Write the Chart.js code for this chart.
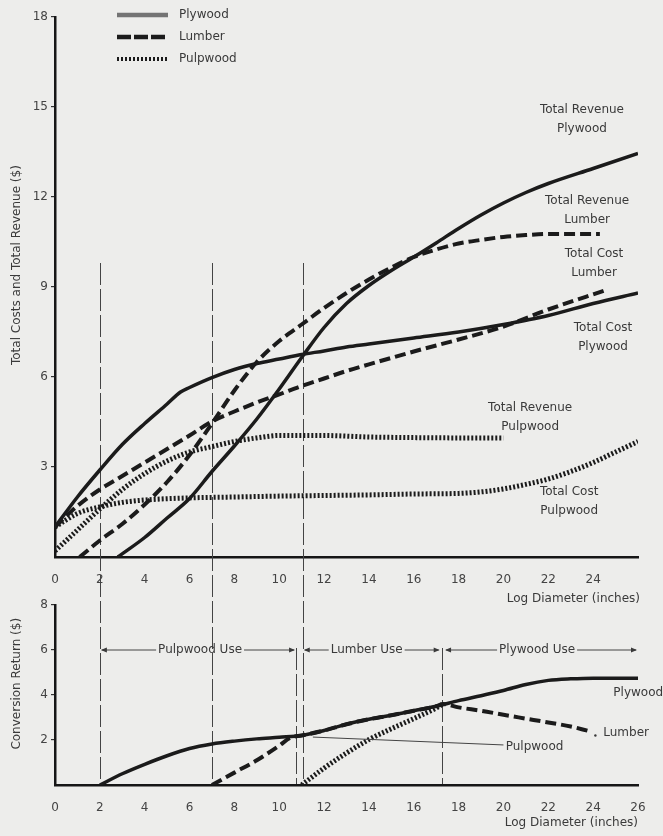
<!DOCTYPE html>
<html>
<head>
<meta charset="utf-8">
<script src="https://cdn.jsdelivr.net/npm/chart.js@4.4.1/dist/chart.umd.min.js"></script>
<style>
  html, body { margin: 0; padding: 0; background: #ededeb; }
  #wrap { position: relative; width: 663px; height: 836px; }
  #wrap canvas { position: absolute; left: 0; top: 0; }
</style>
</head>
<body>
<div id="wrap">
  <canvas id="custos" width="663" height="836"></canvas>
  <canvas id="retorno" width="663" height="836"></canvas>
</div>
<script>
// eixo x comum: diametro da tora (polegadas)
const xTicksTop = [0, 2, 4, 6, 8, 10, 12, 14, 16, 18, 20, 22, 24];
const xTicksBottom = [0, 2, 4, 6, 8, 10, 12, 14, 16, 18, 20, 22, 24, 26];
const yTicksTop = [3, 6, 9, 12, 15, 18];
const yTicksBottom = [2, 4, 6, 8];

// grafico de cima: custos e receitas totais ($)
const revPlywoodX = [2.8, 4, 5, 6, 7, 8, 9, 10, 11, 12, 13, 14, 15, 16, 17, 18, 19, 20, 21, 22, 24, 26];
const revPlywoodY = [0, 0.65, 1.3, 1.95, 2.85, 3.7, 4.6, 5.6, 6.65, 7.65, 8.45, 9.05, 9.55, 10.0, 10.47, 10.95, 11.4, 11.8, 12.15, 12.45, 12.95, 13.45];
const costPlywoodX = [0, 1, 2, 3, 4, 5, 5.6, 6, 7, 8, 9, 10, 11, 12, 13, 14, 16, 18, 20, 22, 24, 26];
const costPlywoodY = [1.0, 2.0, 2.9, 3.75, 4.45, 5.1, 5.5, 5.65, 5.98, 6.25, 6.45, 6.6, 6.75, 6.87, 7.0, 7.1, 7.3, 7.5, 7.75, 8.05, 8.45, 8.8];
const revLumberX = [1.1, 2, 3, 4, 5, 6, 7, 8, 9, 10, 11, 12, 13, 14, 15, 16, 17, 18, 19, 20, 21, 22, 24.3];
const revLumberY = [0, 0.55, 1.1, 1.75, 2.5, 3.4, 4.45, 5.55, 6.5, 7.2, 7.75, 8.3, 8.8, 9.25, 9.65, 10.0, 10.25, 10.45, 10.57, 10.67, 10.73, 10.77, 10.77];
const costLumberX = [0, 1, 2, 3, 4, 5, 6, 7, 8, 9, 10, 11, 12, 13, 14, 16, 18, 20, 22, 24.5];
const costLumberY = [1.0, 1.7, 2.25, 2.7, 3.15, 3.6, 4.05, 4.52, 4.85, 5.15, 5.42, 5.7, 5.95, 6.2, 6.42, 6.85, 7.25, 7.68, 8.25, 8.88];
const revPulpX = [0, 1, 2, 3, 4, 5, 6, 7, 8, 9, 10, 12, 14, 16, 18, 20];
const revPulpY = [0.2, 0.9, 1.6, 2.25, 2.78, 3.2, 3.5, 3.68, 3.85, 3.97, 4.05, 4.05, 4.0, 3.98, 3.97, 3.97];
const costPulpX = [0, 1, 2, 3, 4, 6, 8, 10, 12, 14, 16, 18, 19, 20, 21, 22, 23, 24, 25, 26];
const costPulpY = [1.0, 1.45, 1.67, 1.82, 1.9, 1.97, 2.0, 2.03, 2.05, 2.07, 2.1, 2.12, 2.17, 2.27, 2.42, 2.6, 2.85, 3.15, 3.5, 3.85];

// grafico de baixo: retorno de conversao ($)
const retPlywoodX = [2, 3, 4, 5, 6, 7, 8, 9, 10, 11, 12, 13, 14, 15, 16, 17, 18, 19, 20, 21, 22, 23, 24, 26];
const retPlywoodY = [0, 0.5, 0.92, 1.3, 1.62, 1.82, 1.95, 2.05, 2.12, 2.2, 2.42, 2.7, 2.92, 3.1, 3.3, 3.5, 3.75, 3.97, 4.2, 4.47, 4.65, 4.72, 4.75, 4.75];
const retLumberX = [7, 8, 9, 10, 10.5, 11, 12, 13, 14, 15, 16, 17, 17.3, 18, 19, 20, 21, 22, 23, 23.8];
const retLumberY = [0, 0.55, 1.1, 1.75, 2.1, 2.2, 2.42, 2.7, 2.92, 3.1, 3.3, 3.5, 3.6, 3.45, 3.3, 3.12, 2.95, 2.78, 2.6, 2.4];
const retPulpX = [11, 12, 13, 14, 15, 16, 17, 17.3];
const retPulpY = [0, 0.75, 1.42, 2.02, 2.5, 2.95, 3.42, 3.6];

// limites de uso (linhas verticais tracejadas)
const limitesLongos = [2, 7, 11.05];
const limitesCurtos = [10.75, 17.25];
const usos = [
    { texto: 'Pulpwood Use', de: 2, ate: 10.75, centro: 6.47 },
    { texto: 'Lumber Use', de: 11.05, ate: 17.2, centro: 13.9 },
    { texto: 'Plywood Use', de: 17.35, ate: 26, centro: 21.5 }
];

// rotulos das curvas (em unidades dos eixos)
const rotulosTop = [
    { linhas: ['Total Revenue', 'Plywood'], x: 23.5, y: 14.9 },
    { linhas: ['Total Revenue', 'Lumber'], x: 23.73, y: 11.87 },
    { linhas: ['Total Cost', 'Lumber'], x: 24.04, y: 10.1 },
    { linhas: ['Total Cost', 'Plywood'], x: 24.44, y: 7.63 },
    { linhas: ['Total Revenue', 'Pulpwood'], x: 21.19, y: 4.97 },
    { linhas: ['Total Cost', 'Pulpwood'], x: 22.93, y: 2.17 }
];

const FONTE = '"DejaVu Sans", sans-serif';
const COR_TEXTO = '#3a3a3a';
const COR_LINHA = '#1b1b1b';

function serie(xs, ys, estilo) {
    return Object.assign({
        data: xs.map((v, i) => ({ x: v, y: ys[i] })),
        showLine: true,
        pointRadius: 0,
        fill: false,
        cubicInterpolationMode: 'monotone',
        borderColor: COR_LINHA,
        borderCapStyle: 'butt'
    }, estilo);
}
const solido = { borderWidth: 3.5 };
const tracejado = { borderWidth: 4, borderDash: [11, 5] };
const pontilhado = { borderWidth: 5, borderDash: [2, 2] };

function escalas(xTicks, yTicks, ymax, alturaX) {
    const fonteTick = { family: FONTE, size: 12 };
    return {
        x: {
            type: 'linear', min: 0, max: 26,
            afterBuildTicks: s => { s.ticks = xTicks.map(v => ({ value: v })); },
            afterFit: s => { s.height = alturaX; },
            grid: { display: false },
            border: { display: true, color: '#161616', width: 2.5 },
            ticks: { color: '#444', font: fonteTick, padding: 8, maxRotation: 0, autoSkip: false }
        },
        y: {
            type: 'linear', min: 0, max: ymax,
            afterBuildTicks: s => { s.ticks = yTicks.map(v => ({ value: v })); },
            afterFit: s => { s.width = 54; },
            grid: { display: true, drawOnChartArea: false, drawTicks: true, tickLength: 4, color: '#333', lineWidth: 1.2 },
            border: { display: true, color: '#161616', width: 2.5 },
            ticks: { color: '#444', font: fonteTick, padding: 3, autoSkip: false }
        }
    };
}

function seta(ctx, x, y, dir) {
    ctx.beginPath();
    ctx.moveTo(x, y);
    ctx.lineTo(x - dir * 6, y - 2.5);
    ctx.lineTo(x - dir * 6, y + 2.5);
    ctx.closePath();
    ctx.fill();
}

function textoVertical(ctx, texto, x, y) {
    ctx.save();
    ctx.translate(x, y);
    ctx.rotate(-Math.PI / 2);
    ctx.textAlign = 'center';
    ctx.textBaseline = 'middle';
    ctx.fillText(texto, 0, 0);
    ctx.restore();
}

// grafico de baixo primeiro (canvas de cima na pilha)
const decoRetorno = {
    id: 'decoRetorno',
    afterDraw(chart) {
        const { ctx, scales: { x, y } } = chart;
        ctx.save();
        ctx.font = '12px ' + FONTE;
        ctx.fillStyle = COR_TEXTO;
        ctx.strokeStyle = '#444';
        ctx.lineWidth = 1;
        ctx.textBaseline = 'middle';

        // faixas de uso com setas
        const yu = y.getPixelForValue(6);
        usos.forEach(u => {
            const x0 = x.getPixelForValue(u.de), x1 = x.getPixelForValue(u.ate);
            const xc = x.getPixelForValue(u.centro);
            const w = ctx.measureText(u.texto).width;
            ctx.textAlign = 'center';
            ctx.fillText(u.texto, xc, yu);
            ctx.beginPath();
            ctx.moveTo(x0 + 2, yu); ctx.lineTo(xc - w / 2 - 2, yu);
            ctx.moveTo(xc + w / 2 + 2, yu); ctx.lineTo(x1 - 2, yu);
            ctx.stroke();
            seta(ctx, x0 + 1, yu, -1);
            seta(ctx, x1 - 1, yu, 1);
        });

        // rotulos das curvas
        ctx.textAlign = 'left';
        ctx.fillText('Plywood', x.getPixelForValue(24.9), y.getPixelForValue(4.09));
        ctx.fillText('Lumber', x.getPixelForValue(24.45), y.getPixelForValue(2.31));
        ctx.beginPath();
        ctx.arc(x.getPixelForValue(24.1), y.getPixelForValue(2.2), 1.2, 0, Math.PI * 2);
        ctx.fill();
        ctx.fillText('Pulpwood', x.getPixelForValue(20.1), y.getPixelForValue(1.69));
        ctx.beginPath();
        ctx.moveTo(x.getPixelForValue(11.5), y.getPixelForValue(2.13));
        ctx.lineTo(x.getPixelForValue(20.0), y.getPixelForValue(1.78));
        ctx.stroke();

        // titulos dos eixos
        ctx.textAlign = 'right';
        ctx.fillText('Log Diameter (inches)', x.right, y.bottom + 38);
        textoVertical(ctx, 'Conversion Return ($)', 17, y.getPixelForValue(4.5));
        ctx.restore();
    }
};

const retorno = new Chart(document.getElementById('retorno'), {
    type: 'scatter',
    data: {
        datasets: [
            serie(retPlywoodX, retPlywoodY, solido),
            serie(retLumberX, retLumberY, tracejado),
            serie(retPulpX, retPulpY, pontilhado)
        ]
    },
    options: {
        responsive: false,
        animation: false,
        layout: { padding: { top: 605, right: 25, bottom: 21, left: 1 } },
        plugins: { legend: { display: false }, tooltip: { enabled: false } },
        scales: escalas(xTicksBottom, yTicksBottom, 8, 30)
    },
    plugins: [decoRetorno]
});

const decoCustos = {
    id: 'decoCustos',
    beforeDatasetsDraw(chart) {
        // linhas verticais que atravessam os dois graficos
        const { ctx, scales: { x, y } } = chart;
        const ry = retorno.scales.y;
        ctx.save();
        ctx.strokeStyle = '#444';
        ctx.lineWidth = 1;
        ctx.setLineDash([22, 4]);
        limitesLongos.forEach(v => {
            const px = Math.round(x.getPixelForValue(v)) + 0.5;
            ctx.beginPath();
            ctx.moveTo(px, y.getPixelForValue(9.8));
            ctx.lineTo(px, ry.getPixelForValue(0));
            ctx.stroke();
        });
        limitesCurtos.forEach(v => {
            const px = Math.round(x.getPixelForValue(v)) + 0.5;
            ctx.beginPath();
            ctx.moveTo(px, ry.getPixelForValue(6) - 2);
            ctx.lineTo(px, ry.getPixelForValue(0));
            ctx.stroke();
        });
        ctx.restore();
    },
    afterDraw(chart) {
        const { ctx, scales: { x, y } } = chart;
        ctx.save();
        ctx.font = '12px ' + FONTE;
        ctx.fillStyle = COR_TEXTO;
        ctx.textBaseline = 'middle';

        // legenda
        const lx0 = 117, lx1 = 168;
        const legenda = [
            { nome: 'Plywood', ly: 15, cor: '#747474', largura: 4.5, dash: [] },
            { nome: 'Lumber', ly: 37, cor: COR_LINHA, largura: 4.5, dash: [14, 3] },
            { nome: 'Pulpwood', ly: 59, cor: COR_LINHA, largura: 4, dash: [2, 2] }
        ];
        legenda.forEach(l => {
            ctx.save();
            ctx.strokeStyle = l.cor;
            ctx.lineWidth = l.largura;
            ctx.setLineDash(l.dash);
            ctx.beginPath();
            ctx.moveTo(lx0, l.ly);
            ctx.lineTo(lx1, l.ly);
            ctx.stroke();
            ctx.restore();
            ctx.textAlign = 'left';
            ctx.fillText(l.nome, 179, l.ly);
        });

        // rotulos das curvas
        ctx.textAlign = 'center';
        rotulosTop.forEach(r => {
            r.linhas.forEach((t, i) => {
                ctx.fillText(t, x.getPixelForValue(r.x), y.getPixelForValue(r.y) + i * 19);
            });
        });

        // titulos dos eixos
        ctx.textAlign = 'right';
        ctx.fillText('Log Diameter (inches)', x.right + 2, y.bottom + 42);
        textoVertical(ctx, 'Total Costs and Total Revenue ($)', 17, y.getPixelForValue(9.73));
        ctx.restore();
    }
};

const custos = new Chart(document.getElementById('custos'), {
    type: 'scatter',
    data: {
        datasets: [
            serie(revPlywoodX, revPlywoodY, solido),
            serie(costPlywoodX, costPlywoodY, solido),
            serie(revLumberX, revLumberY, tracejado),
            serie(costLumberX, costLumberY, tracejado),
            serie(revPulpX, revPulpY, pontilhado),
            serie(costPulpX, costPulpY, pontilhado)
        ]
    },
    options: {
        responsive: false,
        animation: false,
        layout: { padding: { top: 17, right: 25, bottom: 249, left: 1 } },
        plugins: { legend: { display: false }, tooltip: { enabled: false } },
        scales: escalas(xTicksTop, yTicksTop, 18, 30)
    },
    plugins: [decoCustos]
});
</script>
</body>
</html>
